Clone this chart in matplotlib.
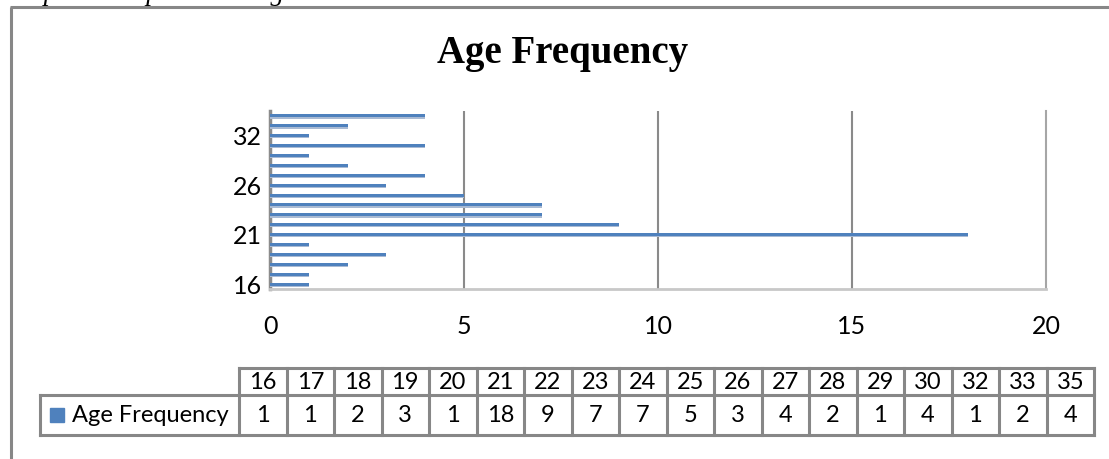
import matplotlib.pyplot as plt
from matplotlib.patches import Rectangle

# data
ages = ["16", "17", "18", "19", "20", "21", "22", "23", "24", "25",
        "26", "27", "28", "29", "30", "32", "33", "35"]
freq = [1, 1, 2, 3, 1, 18, 9, 7, 7, 5, 3, 4, 2, 1, 4, 1, 2, 4]
x_ticks = [0, 5, 10, 15, 20]
series_name = "Age Frequency"
title = "Age Frequency"
caption = "Graph 3: Respondents' age"

W, H = 1109, 459
blue = "#4f81bd"
shade = "#a9bad3"
grid = "#8a8a8a"
sans = ["Lato", "DejaVu Sans"]
serif = ["Liberation Serif", "DejaVu Serif"]

fig = plt.figure(figsize=(W / 100, H / 100), dpi=100)

# overlay in pixel coordinates for frame, title and data table
ov = fig.add_axes([0, 0, 1, 1])
ov.set_xlim(0, W)
ov.set_ylim(H, 0)
ov.axis("off")

# caption of the page, mostly cut off at the top
ov.text(0, 0.0, caption, family=serif, style="italic", fontsize=19.5,
        va="baseline", ha="left", clip_on=False)

# outer chart frame (only top and left edges visible)
ov.plot([10, W], [7, 7], color="#878787", lw=2.2, solid_capstyle="butt")
ov.plot([11, 11], [7, H], color="#878787", lw=2.2, solid_capstyle="butt")

ov.text(563, 53, title, family=serif, weight="bold", fontsize=28,
        ha="center", va="center")

# main bar chart
ax = fig.add_axes([270 / W, 1 - 289 / H, (1046 - 270) / W, (289 - 111) / H])
ax.set_facecolor("none")
pos = list(range(len(ages)))
ax.barh([p - 0.16 for p in pos], freq, height=0.22, color=shade, zorder=3)
ax.barh(pos, freq, height=0.3, color=blue, zorder=4)
ax.set_xlim(0, 20)
ax.set_ylim(-0.5, len(ages) - 0.5)
for v in x_ticks[1:-1]:
    ax.axvline(v, color=grid, lw=1.5, zorder=1)
ax.spines["top"].set_visible(False)
ax.spines["right"].set_color("#a6a6a6")
ax.spines["right"].set_linewidth(1.5)
ax.spines["bottom"].set_color("#c8c8c8")
ax.spines["bottom"].set_linewidth(2)
ax.spines["left"].set_color("#8c8c8c")
ax.spines["left"].set_linewidth(2.5)
ax.set_xticks(x_ticks)
ax.set_xticklabels([str(v) for v in x_ticks], family=sans, fontsize=18)
ax.set_yticks(pos[::5])
ax.set_yticklabels(ages[::5], family=sans, fontsize=18)
ax.tick_params(axis="x", length=0, pad=19)
ax.tick_params(axis="y", length=0, pad=6)

# data table below the chart
x0, cw = 239, 47.5
y_top, y_mid, y_bot = 368, 395, 435
x_end = x0 + cw * len(ages)
lc, lw = "#878787", 2.2
ov.plot([x0, x_end], [y_top, y_top], color=lc, lw=lw)
ov.plot([40, x_end], [y_mid, y_mid], color=lc, lw=lw)
ov.plot([40, x_end], [y_bot, y_bot], color=lc, lw=lw)
ov.plot([40, 40], [y_mid, y_bot], color=lc, lw=lw)
for i in range(len(ages) + 1):
    xx = x0 + cw * i
    ov.plot([xx, xx], [y_top, y_bot], color=lc, lw=lw)
for i, (a, f) in enumerate(zip(ages, freq)):
    cx = x0 + cw * (i + 0.5)
    ov.text(cx, (y_top + y_mid) / 2 + 1, a, family=sans, fontsize=17,
            ha="center", va="center")
    ov.text(cx, (y_mid + y_bot) / 2, str(f), family=sans, fontsize=17,
            ha="center", va="center")
ov.add_patch(Rectangle((50, 408), 14, 14, color=blue))
ov.text(72, (y_mid + y_bot) / 2, series_name, family=sans, fontsize=17,
        ha="left", va="center")

fig.savefig("out.png", dpi=100)
